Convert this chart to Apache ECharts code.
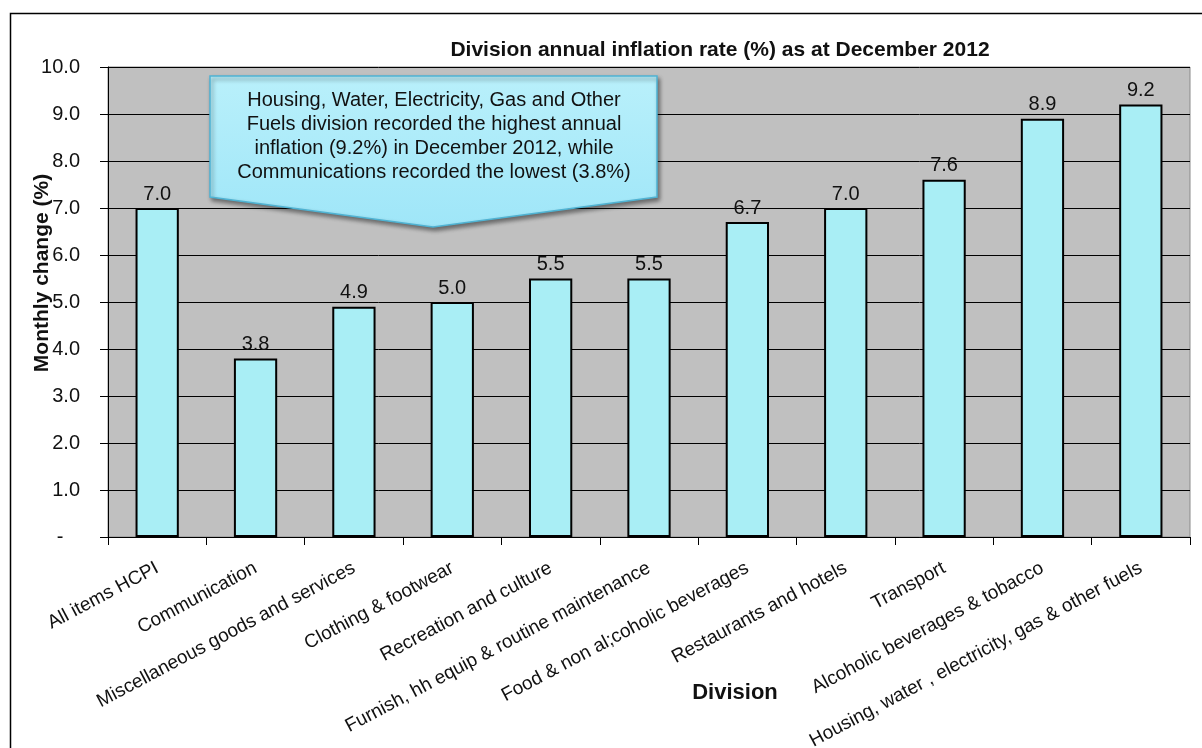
<!DOCTYPE html>
<html>
<head>
<meta charset="utf-8">
<script src="https://cdn.jsdelivr.net/npm/echarts@6/dist/echarts.min.js"></script>
<style>
html,body{margin:0;padding:0;background:#fff;}
#chart{width:1202px;height:748px;}
</style>
</head>
<body>
<div id="chart"></div>
<script>
const categories = [
  "All items HCPI",
  "Communication",
  "Miscellaneous goods and services",
  "Clothing & footwear",
  "Recreation and culture",
  "Furnish, hh equip & routine maintenance",
  "Food & non al;coholic beverages",
  "Restaurants and hotels",
  "Transport",
  "Alcoholic beverages & tobacco",
  "Housing, water , electricity, gas & other fuels"
];
const values = [7.0, 3.8, 4.9, 5.0, 5.5, 5.5, 6.7, 7.0, 7.6, 8.9, 9.2];
const yTickLabels = ["-   ", "1.0", "2.0", "3.0", "4.0", "5.0", "6.0", "7.0", "8.0", "9.0", "10.0"];
const titleText = "Division annual inflation rate (%) as at December 2012";
const yAxisTitle = "Monthly change (%)";
const xAxisTitle = "Division";
const calloutText = "Housing, Water, Electricity, Gas and Other\nFuels division recorded the highest annual\ninflation (9.2%) in December 2012, while\nCommunications recorded the lowest (3.8%)";

const FONT = "'Liberation Sans', Arial, sans-serif";
const chart = echarts.init(document.getElementById('chart'), null, {renderer: 'canvas'});
chart.setOption({
  animation: false,
  backgroundColor: '#ffffff',
  grid: {
    left: 108, right: 12, top: 67, bottom: 211,
    containLabel: false, outerBoundsMode: 'none',
    show: true, backgroundColor: '#c0c0c0', borderColor: '#8a8a8a', borderWidth: 1
  },
  xAxis: {
    type: 'category',
    data: categories,
    axisLine: {show: true, lineStyle: {color: '#000', width: 1}},
    axisTick: {show: true, length: 8, lineStyle: {color: '#000'}},
    axisLabel: {
      interval: 0, rotate: 28, margin: 30,
      fontFamily: FONT, fontSize: 19, color: '#111'
    },
    splitLine: {show: false}
  },
  yAxis: {
    type: 'value',
    min: 0, max: 10, interval: 1,
    axisLine: {show: true, lineStyle: {color: '#000', width: 1}},
    axisTick: {show: true, length: 8, lineStyle: {color: '#000'}},
    axisLabel: {
      margin: 28, fontFamily: FONT, fontSize: 20, color: '#111',
      formatter: v => yTickLabels[Math.round(v)]
    },
    splitLine: {show: true, lineStyle: {color: '#000', width: 1}}
  },
  series: [{
    type: 'bar',
    data: values,
    barWidth: '44%',
    itemStyle: {color: '#a9eef5', borderColor: '#000', borderWidth: 2},
    label: {
      show: true, position: 'top', distance: 4,
      fontFamily: FONT, fontSize: 20, color: '#111',
      formatter: p => p.value.toFixed(1)
    }
  }],
  graphic: [
    {
      type: 'rect', silent: true, z: 100,
      shape: {x: 10.5, y: 13.5, width: 1300, height: 800},
      style: {fill: 'none', stroke: '#000', lineWidth: 1.5}
    },
    {
      type: 'text', z: 100,
      x: 720, y: 50,
      style: {
        text: titleText, textAlign: 'center', textVerticalAlign: 'middle',
        font: "bold 21px " + FONT, fill: '#111'
      }
    },
    {
      type: 'text', z: 100,
      x: 42, y: 273, rotation: Math.PI / 2,
      style: {
        text: yAxisTitle, textAlign: 'center', textVerticalAlign: 'middle',
        font: "bold 21px " + FONT, fill: '#111'
      }
    },
    {
      type: 'text', z: 100,
      x: 735, y: 693,
      style: {
        text: xAxisTitle, textAlign: 'center', textVerticalAlign: 'middle',
        font: "bold 22px " + FONT, fill: '#111'
      }
    },
    {
      type: 'polygon', z: 90,
      shape: {points: [[210, 76], [657, 76], [657, 197], [433, 227], [210, 197]]},
      style: {
        fill: new echarts.graphic.LinearGradient(0, 0, 0, 1, [
          {offset: 0, color: '#b9f0fb'},
          {offset: 1, color: '#9fe6f8'}
        ]),
        stroke: '#4fb3d3', lineWidth: 1.5,
        shadowBlur: 4, shadowColor: 'rgba(0,0,0,0.45)', shadowOffsetX: 2, shadowOffsetY: 3
      }
    },
    {
      type: 'text', z: 95,
      x: 434, y: 136,
      style: {
        text: calloutText, textAlign: 'center', textVerticalAlign: 'middle',
        font: "20px " + FONT, lineHeight: 24, fill: '#111'
      }
    }
  ]
});
</script>
</body>
</html>
